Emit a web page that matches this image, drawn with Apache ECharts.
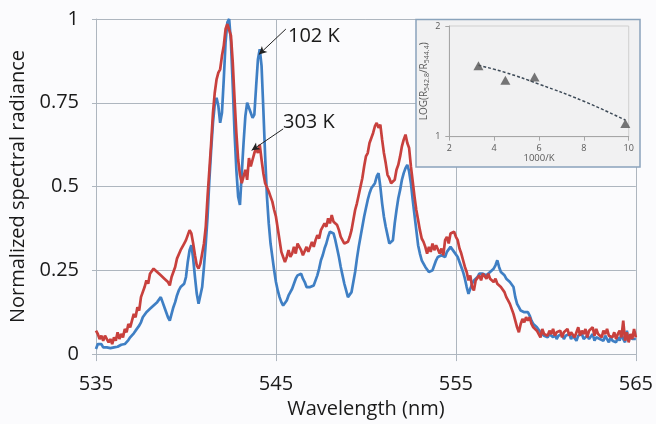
<!DOCTYPE html>
<html>
<head>
<meta charset="utf-8">
<style>html,body{margin:0;padding:0;background:#fbfbfd;}#c{width:656px;height:424px;}</style>
<script src="https://cdn.jsdelivr.net/npm/echarts@6/dist/echarts.min.js"></script>
</head>
<body>
<div id="c"></div>
<script>
// Wavelength sampling: 535.0 .. 565.0 nm, step 0.1 nm
var wlStart = 535.0, wlStep = 0.1;
var xTicks = [535, 545, 555, 565];
var yTicks = [0, 0.25, 0.5, 0.75, 1];

// 303 K (red) normalized spectral radiance
var red303 = [
0.07,0.06,0.045,0.055,0.04,0.055,0.05,0.035,0.045,0.03,
0.05,0.04,0.065,0.045,0.06,0.05,0.075,0.065,0.09,0.08,
0.10,0.12,0.11,0.14,0.13,0.17,0.165,0.20,0.22,0.21,
0.24,0.235,0.255,0.25,0.245,0.25,0.235,0.24,0.225,0.23,
0.215,0.205,0.23,0.245,0.26,0.285,0.29,0.31,0.305,0.33,
0.34,0.355,0.37,0.36,0.33,0.295,0.265,0.255,0.27,0.30,
0.33,0.38,0.47,0.55,0.63,0.72,0.78,0.82,0.84,0.85,
0.89,0.92,0.97,0.985,0.99,0.95,0.87,0.76,0.66,0.58,
0.535,0.51,0.53,0.55,0.52,0.585,0.56,0.58,0.60,0.615,
0.60,0.625,0.58,0.54,0.51,0.505,0.485,0.47,0.455,0.43,
0.41,0.375,0.34,0.305,0.29,0.275,0.29,0.31,0.29,0.30,
0.32,0.30,0.33,0.335,0.31,0.295,0.30,0.32,0.305,0.32,
0.335,0.32,0.34,0.355,0.345,0.37,0.375,0.39,0.38,0.405,
0.39,0.415,0.395,0.40,0.385,0.37,0.35,0.345,0.33,0.325,
0.335,0.35,0.37,0.40,0.43,0.45,0.475,0.50,0.525,0.56,
0.59,0.60,0.63,0.645,0.66,0.68,0.69,0.675,0.685,0.64,
0.60,0.57,0.535,0.525,0.51,0.51,0.52,0.55,0.565,0.59,
0.62,0.64,0.655,0.63,0.615,0.56,0.515,0.47,0.43,0.40,
0.37,0.345,0.335,0.32,0.30,0.32,0.305,0.33,0.31,0.325,
0.32,0.30,0.315,0.295,0.34,0.35,0.33,0.36,0.355,0.365,
0.35,0.34,0.315,0.30,0.28,0.26,0.245,0.22,0.235,0.20,
0.19,0.22,0.215,0.235,0.22,0.24,0.235,0.225,0.24,0.225,
0.23,0.215,0.225,0.21,0.205,0.20,0.195,0.185,0.17,0.16,
0.15,0.135,0.12,0.10,0.08,0.065,0.09,0.105,0.095,0.11,
0.10,0.11,0.09,0.08,0.085,0.07,0.065,0.05,0.075,0.06,
0.065,0.055,0.07,0.06,0.075,0.055,0.065,0.06,0.07,0.05,
0.065,0.06,0.075,0.055,0.065,0.07,0.05,0.065,0.08,0.055,
0.07,0.06,0.075,0.05,0.07,0.065,0.08,0.055,0.075,0.06,
0.065,0.05,0.07,0.06,0.075,0.055,0.06,0.05,0.065,0.045,
0.06,0.07,0.05,0.10,0.04,0.065,0.035,0.06,0.045,0.075,
0.05
];

// 102 K (blue) normalized spectral radiance
var blue102 = [
0.015,0.03,0.025,0.03,0.02,0.025,0.02,0.025,0.018,0.015,
0.02,0.025,0.022,0.02,0.028,0.025,0.03,0.035,0.042,0.05,
0.055,0.062,0.07,0.075,0.085,0.095,0.11,0.115,0.125,0.13,
0.135,0.14,0.145,0.14,0.155,0.16,0.17,0.155,0.14,0.125,
0.11,0.10,0.12,0.14,0.155,0.175,0.19,0.20,0.205,0.21,
0.23,0.275,0.31,0.325,0.285,0.23,0.18,0.15,0.155,0.20,
0.26,0.33,0.41,0.52,0.61,0.69,0.745,0.765,0.74,0.69,
0.72,0.82,0.93,0.99,1.0,0.93,0.80,0.66,0.55,0.47,
0.445,0.54,0.63,0.71,0.75,0.755,0.72,0.705,0.715,0.80,
0.88,0.91,0.86,0.73,0.59,0.47,0.39,0.33,0.29,0.25,
0.215,0.19,0.17,0.155,0.145,0.15,0.16,0.175,0.185,0.195,
0.21,0.225,0.235,0.24,0.24,0.225,0.215,0.20,0.195,0.20,
0.195,0.205,0.21,0.235,0.255,0.28,0.295,0.315,0.33,0.35,
0.365,0.37,0.36,0.34,0.315,0.29,0.26,0.235,0.21,0.19,
0.17,0.175,0.185,0.215,0.245,0.285,0.32,0.35,0.38,0.41,
0.435,0.46,0.48,0.495,0.50,0.51,0.53,0.54,0.50,0.45,
0.41,0.38,0.355,0.33,0.325,0.34,0.39,0.43,0.465,0.49,
0.52,0.54,0.555,0.565,0.545,0.51,0.46,0.415,0.37,0.325,
0.30,0.28,0.27,0.26,0.255,0.245,0.24,0.25,0.265,0.28,
0.29,0.285,0.295,0.30,0.29,0.305,0.31,0.32,0.315,0.305,
0.30,0.29,0.275,0.26,0.245,0.225,0.20,0.18,0.195,0.21,
0.22,0.225,0.23,0.24,0.235,0.24,0.245,0.235,0.24,0.245,
0.25,0.255,0.265,0.28,0.26,0.245,0.24,0.235,0.225,0.22,
0.215,0.21,0.20,0.17,0.15,0.14,0.13,0.13,0.125,0.12,
0.125,0.115,0.10,0.09,0.085,0.08,0.075,0.065,0.06,0.055,
0.06,0.05,0.06,0.055,0.05,0.06,0.045,0.055,0.05,0.06,
0.045,0.055,0.05,0.06,0.045,0.055,0.05,0.04,0.055,0.05,
0.06,0.045,0.05,0.055,0.045,0.05,0.06,0.04,0.05,0.055,
0.045,0.05,0.04,0.055,0.045,0.035,0.05,0.04,0.045,0.035,
0.05,0.04,0.06,0.045,0.035,0.07,0.04,0.055,0.045,0.05,
0.045
];

// Inset: LOG ratio vs 1000/K
var insetX = [3.3, 4.5, 5.8, 9.85];
var insetY = [1.64, 1.51, 1.54, 1.12];
var trendX = [3.3, 4.5, 6.0, 8.0, 9.85];
var trendY = [1.645, 1.58, 1.475, 1.32, 1.15];
var insetXTicks = [2, 4, 6, 8, 10];
var insetYTicks = [1, 2];

function pairs(xs, ys) { return ys.map(function (v, i) { return [xs[i], v]; }); }
var wl = red303.map(function (_, i) { return +(wlStart + i * wlStep).toFixed(1); });

var gridColor = '#aeb6bf';
var font = 'Open Sans';
var chart = echarts.init(document.getElementById('c'), null, { renderer: 'canvas' });
chart.setOption({
  backgroundColor: '#fbfbfd',
  animation: false,
  textStyle: { fontFamily: font },
  grid: [
    { left: 95.5, right: 20, top: 19, bottom: 66 },
    { left: 449.3, top: 26, width: 179.4, height: 110.7, show: true, borderColor: '#cfcfcf', borderWidth: 1, backgroundColor: 'transparent', z: 3 }
  ],
  xAxis: [
    {
      gridIndex: 0, type: 'value', min: xTicks[0], max: xTicks[xTicks.length - 1], interval: 10,
      name: 'Wavelength (nm)', nameLocation: 'middle', nameGap: 43,
      nameTextStyle: { fontSize: 20, color: '#1a1a1a', fontFamily: font },
      axisLine: { show: true, lineStyle: { color: gridColor, width: 1 } },
      axisTick: { show: true, length: 7, lineStyle: { color: gridColor } },
      axisLabel: { fontSize: 20, color: '#1a1a1a', margin: 20, fontFamily: font },
      splitLine: { show: true, lineStyle: { color: gridColor, width: 1 } }
    },
    {
      gridIndex: 1, type: 'value', min: 2, max: 10, interval: 2, z: 4,
      name: '1000/K', nameLocation: 'middle', nameGap: 17,
      nameTextStyle: { fontSize: 9.5, color: '#595959', fontFamily: font },
      axisLine: { show: true, lineStyle: { color: '#a6a6a6' } },
      axisTick: { show: true, length: 4, lineStyle: { color: '#a6a6a6' } },
      axisLabel: { fontSize: 9, color: '#595959', margin: 7, fontFamily: font },
      splitLine: { show: false }
    }
  ],
  yAxis: [
    {
      gridIndex: 0, type: 'value', min: yTicks[0], max: yTicks[yTicks.length - 1], interval: 0.25,
      name: 'Normalized spectral radiance', nameLocation: 'middle', nameGap: 68,
      nameTextStyle: { fontSize: 20, color: '#1a1a1a', fontFamily: font },
      axisLine: { show: true, lineStyle: { color: gridColor, width: 1 } },
      axisTick: { show: true, length: 4, lineStyle: { color: gridColor } },
      axisLabel: { fontSize: 20, color: '#1a1a1a', margin: 17, fontFamily: font },
      splitLine: { show: true, lineStyle: { color: gridColor, width: 1 } }
    },
    {
      gridIndex: 1, type: 'value', min: 1, max: 2, interval: 1, z: 4,
      name: 'LOG(R{s|542.8}/R{s|544.4})', nameLocation: 'middle', nameGap: 19,
      nameTextStyle: { fontSize: 10, color: '#595959', fontFamily: font, rich: { s: { fontSize: 7, color: '#595959', padding: [6, 0, 0, 0], fontFamily: font } } },
      axisLine: { show: true, lineStyle: { color: '#a6a6a6' } },
      axisTick: { show: true, length: 4, lineStyle: { color: '#a6a6a6' } },
      axisLabel: { fontSize: 9, color: '#595959', margin: 9, fontFamily: font },
      splitLine: { show: false }
    }
  ],
  graphic: [
    { type: 'rect', z: 1, shape: { x: 416, y: 19.5, width: 224, height: 147.5 },
      style: { fill: '#f1f1f2', stroke: '#8aa3bc', lineWidth: 1.5 } },
    { type: 'text', z: 5, left: 288, top: 26, style: { text: '102 K', fontSize: 20, fill: '#1a1a1a', fontFamily: font } },
    { type: 'text', z: 5, left: 283, top: 112, style: { text: '303 K', fontSize: 20, fill: '#1a1a1a', fontFamily: font } }
  ],
  series: [
    {
      name: '102 K', type: 'line', xAxisIndex: 0, yAxisIndex: 0, showSymbol: false, z: 2,
      data: pairs(wl, blue102),
      lineStyle: { color: '#3f7fc4', width: 2.7 }
    },
    {
      name: '303 K', type: 'line', xAxisIndex: 0, yAxisIndex: 0, showSymbol: false, z: 2,
      data: pairs(wl, red303),
      lineStyle: { color: '#c8403d', width: 2.7 },
      markLine: {
        silent: true, symbol: ['none', 'arrow'], symbolSize: [6, 8],
        lineStyle: { color: '#222', width: 1, type: 'solid' },
        label: { show: false },
        data: [
          [{ coord: [545.55, 0.97] }, { coord: [544.05, 0.894] }],
          [{ coord: [545.40, 0.672] }, { coord: [543.65, 0.608] }]
        ]
      }
    },
    {
      type: 'line', xAxisIndex: 1, yAxisIndex: 1, showSymbol: false, smooth: true, z: 5,
      data: pairs(trendX, trendY),
      lineStyle: { color: '#3d4a57', width: 1.5, type: [3, 2] }
    },
    {
      type: 'scatter', xAxisIndex: 1, yAxisIndex: 1, symbol: 'triangle', symbolSize: [10, 9], z: 6,
      data: pairs(insetX, insetY),
      itemStyle: { color: '#555' }
    }
  ]
});
</script>
</body>
</html>
